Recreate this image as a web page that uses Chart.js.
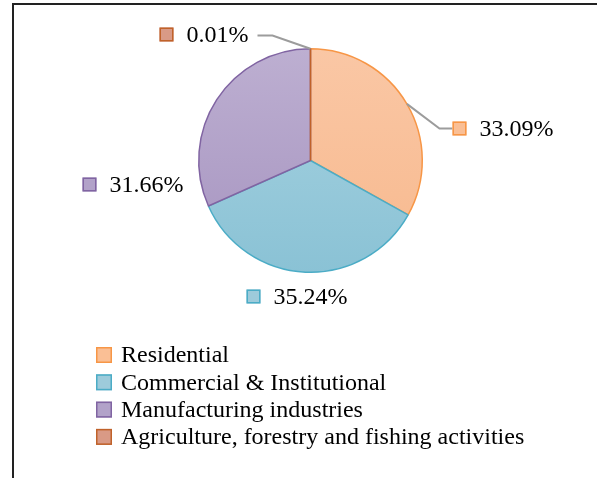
<!DOCTYPE html>
<html>
<head>
<meta charset="utf-8">
<script src="https://cdn.jsdelivr.net/npm/chart.js@4.4.1/dist/chart.umd.min.js"></script>
<style>
  html, body { margin: 0; padding: 0; background: #fff; }
  #wrap { position: relative; width: 597px; height: 478px; }
  #frame { position: absolute; left: 12px; top: 3px; right: 0; bottom: 0; border-top: 2px solid #222; border-left: 2px solid #222; pointer-events: none; }
  canvas { position: absolute; left: 0; top: 0; }
</style>
</head>
<body>
<div id="wrap">
  <canvas id="shareChart" width="597" height="478"></canvas>
  <div id="frame"></div>
</div>
<script>
const sectors = ['Residential', 'Commercial & Institutional', 'Manufacturing industries', 'Agriculture, forestry and fishing activities'];
const shares = [33.09, 35.24, 31.66, 0.01];
const shareLabels = ['33.09%', '35.24%', '31.66%', '0.01%'];

// fill (top, bottom) and outline per sector
const fillTop = ['#FAC7A5', '#A8D3E1', '#BDAFD1', '#DCA593'];
const fillBottom = ['#F7B98E', '#8AC2D5', '#A694C0', '#D4907A'];
const edgeColors = ['#F79646', '#4BACC6', '#8064A2', '#C0622A'];
const swatchFill = ['#FABF95', '#9DCBDB', '#B2A2C9', '#D99A86'];

const serif = '24px "Liberation Serif", "Times New Roman", serif';

// label box placement relative to the pie centre (square left edge, row middle),
// plus the elbow of the leader line when there is one
const labelSpots = [
  { dx: 142, dy: -32, elbow: [129, -32] },
  { dx: -64, dy: 136 },
  { dx: -228, dy: 24 },
  { dx: -151, dy: -126, elbow: [-38, -125], textEnd: true },
];

function sliceFill(ctx) {
  const chart = ctx.chart;
  const area = chart.chartArea;
  if (!area) return swatchFill[ctx.dataIndex];
  const g = chart.ctx.createLinearGradient(0, area.top, 0, area.bottom);
  g.addColorStop(0, fillTop[ctx.dataIndex]);
  g.addColorStop(1, fillBottom[ctx.dataIndex]);
  return g;
}

function drawSwatch(ctx, x, y, size, i) {
  ctx.fillStyle = swatchFill[i];
  ctx.fillRect(x, y - size / 2, size, size);
  ctx.strokeStyle = edgeColors[i];
  ctx.lineWidth = 1.5;
  ctx.strokeRect(x + 0.75, y - size / 2 + 0.75, size - 1.5, size - 1.5);
}

const calloutPlugin = {
  id: 'callouts',
  afterDatasetsDraw(chart) {
    const ctx = chart.ctx;
    const arcs = chart.getDatasetMeta(0).data;
    ctx.save();
    ctx.font = serif;
    ctx.textBaseline = 'middle';
    arcs.forEach((arc, i) => {
      const { x, y, outerRadius, startAngle, endAngle } = arc.getProps(['x', 'y', 'outerRadius', 'startAngle', 'endAngle'], true);
      const spot = labelSpots[i];
      const bx = x + spot.dx;
      const by = y + spot.dy;
      const textW = ctx.measureText(shareLabels[i]).width;
      if (spot.elbow) {
        const mid = (startAngle + endAngle) / 2;
        const ex = x + Math.cos(mid) * outerRadius;
        const ey = y + Math.sin(mid) * outerRadius;
        const kx = x + spot.elbow[0];
        const ky = y + spot.elbow[1];
        const endX = spot.textEnd ? bx + 28 + textW + 8 : bx;
        ctx.strokeStyle = '#9C9C9C';
        ctx.lineWidth = 2;
        ctx.beginPath();
        ctx.moveTo(ex, ey);
        ctx.lineTo(kx, ky);
        ctx.lineTo(endX, ky);
        ctx.stroke();
      }
      drawSwatch(ctx, bx, by, 14, i);
      ctx.fillStyle = '#000';
      ctx.fillText(shareLabels[i], bx + 27, by + 1);
    });

    // vertical legend under the pie
    const lx = 96;
    const rowGap = 27.3;
    const top = 355;
    chart.data.labels.forEach((name, i) => {
      const ry = top + i * rowGap;
      drawSwatch(ctx, lx, ry, 16, i);
      ctx.fillStyle = '#000';
      ctx.fillText(name, lx + 25, ry + 1);
    });
    ctx.restore();
  },
};

new Chart(document.getElementById('shareChart'), {
  type: 'pie',
  data: {
    labels: sectors,
    datasets: [{
      data: shares,
      backgroundColor: sliceFill,
      borderColor: edgeColors,
      borderWidth: 1.5,
    }],
  },
  options: {
    responsive: false,
    devicePixelRatio: 1,
    animation: false,
    layout: { padding: { left: 198, right: 174, top: 48, bottom: 205 } },
    plugins: { legend: { display: false }, tooltip: { enabled: false } },
  },
  plugins: [calloutPlugin],
});
</script>
</body>
</html>
